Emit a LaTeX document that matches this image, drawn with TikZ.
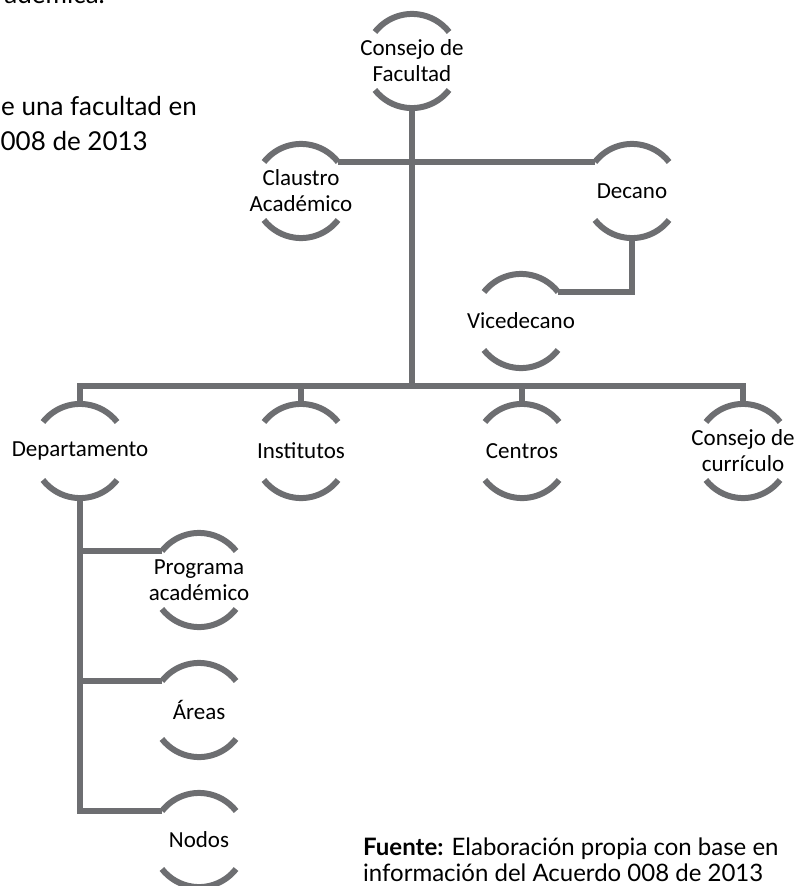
\documentclass[tikz,border=0pt]{standalone}
\usepackage{fontspec}
\setmainfont{Carlito}
\newfontfamily\capfont{Lato}
\definecolor{linegray}{HTML}{6D6E71}
\begin{document}
\begin{tikzpicture}[x=1pt,y=-1pt,
  org/.style={inner sep=0pt,outer sep=0pt,align=center,
    font=\fontsize{23}{26}\selectfont,text=black},
  link/.style={draw=linegray,line width=6pt},
  arcline/.style={draw=linegray,line width=6pt},
  captext/.style={font=\capfont\fontsize{26}{35}\selectfont,text=black,inner sep=0pt},
  srctext/.style={font=\capfont\fontsize{24}{26}\selectfont,text=black,inner sep=0pt}]
\useasboundingbox (0,0) rectangle (799,886);
% nodes
\node[org] (cf) at (412,61) {Consejo de\\Facultad};
\node[org] (ca) at (301,191) {Claustro\\Académico};
\node[org] (de) at (632,191) {Decano};
\node[org] (vi) at (521,321) {Vicedecano};
\node[org] (dp) at (80,451) {Departamento};
\node[org] (in) at (301,451) {Institutos};
\node[org] (ce) at (522,451) {Centros};
\node[org] (cc) at (743,451) {Consejo de\\currículo};
\node[org] (pa) at (199,580) {Programa\\académico};
\node[org] (ar) at (199,710) {Áreas};
\node[org] (no) at (199,840) {Nodos};
% half-circle arcs and attach points (pixel coordinates, y down)
\foreach \n in {cf,ca,de,vi,dp,in,ce,cc,pa,ar,no}{
  \coordinate (\n-tl) at ([shift={(-37,-29)}]\n.center);
  \coordinate (\n-tr) at ([shift={(37,-29)}]\n.center);
  \coordinate (\n-br) at ([shift={(37,29)}]\n.center);
  \coordinate (\n-top) at ([shift={(0,-47)}]\n.center);
  \coordinate (\n-bot) at ([shift={(0,47)}]\n.center);
  \draw[arcline] (\n-tl) arc[start angle=142,end angle=38,radius=47pt];
  \draw[arcline] (\n-br) arc[start angle=-38,end angle=-142,radius=47pt];
}
% connectors
\coordinate (barL) at (80,386);
\coordinate (barR) at (743,386);
\draw[link] (cf-bot) -- (cf-bot |- barL);
\draw[link] (ca-tr) -- (de-tl);
\draw[link] (de-bot) |- (vi-tr);
\draw[link] ([xshift=-3pt]barL) -- ([xshift=3pt]barR);
\foreach \n in {dp,in,ce,cc}{
  \draw[link] (\n-top) -- (\n-top |- barL);
}
\coordinate (dpend) at (dp-bot |- no-tl);
\draw[link] (dp-bot) -- ([yshift=3pt]dpend);
\draw[link] (dp-bot |- pa-tl) -- (pa-tl);
\draw[link] (dp-bot |- ar-tl) -- (ar-tl);
\draw[link] ([xshift=-3pt]dpend) -- (no-tl);
% texts
\node[captext,anchor=base east] (t0) at (105,4) {adémica.};
\node[captext,anchor=base east] (t1) at (197,115) {e una facultad en};
\node[captext,anchor=base east] (t2) at (148,150) {008 de 2013};
\node[srctext,anchor=base west] (s1) at (363,855) {\textbf{Fuente:} Elaboración propia con base en};
\node[srctext,anchor=base west] (s2) at (363,881) {información del Acuerdo 008 de 2013};
\end{tikzpicture}
\end{document}
